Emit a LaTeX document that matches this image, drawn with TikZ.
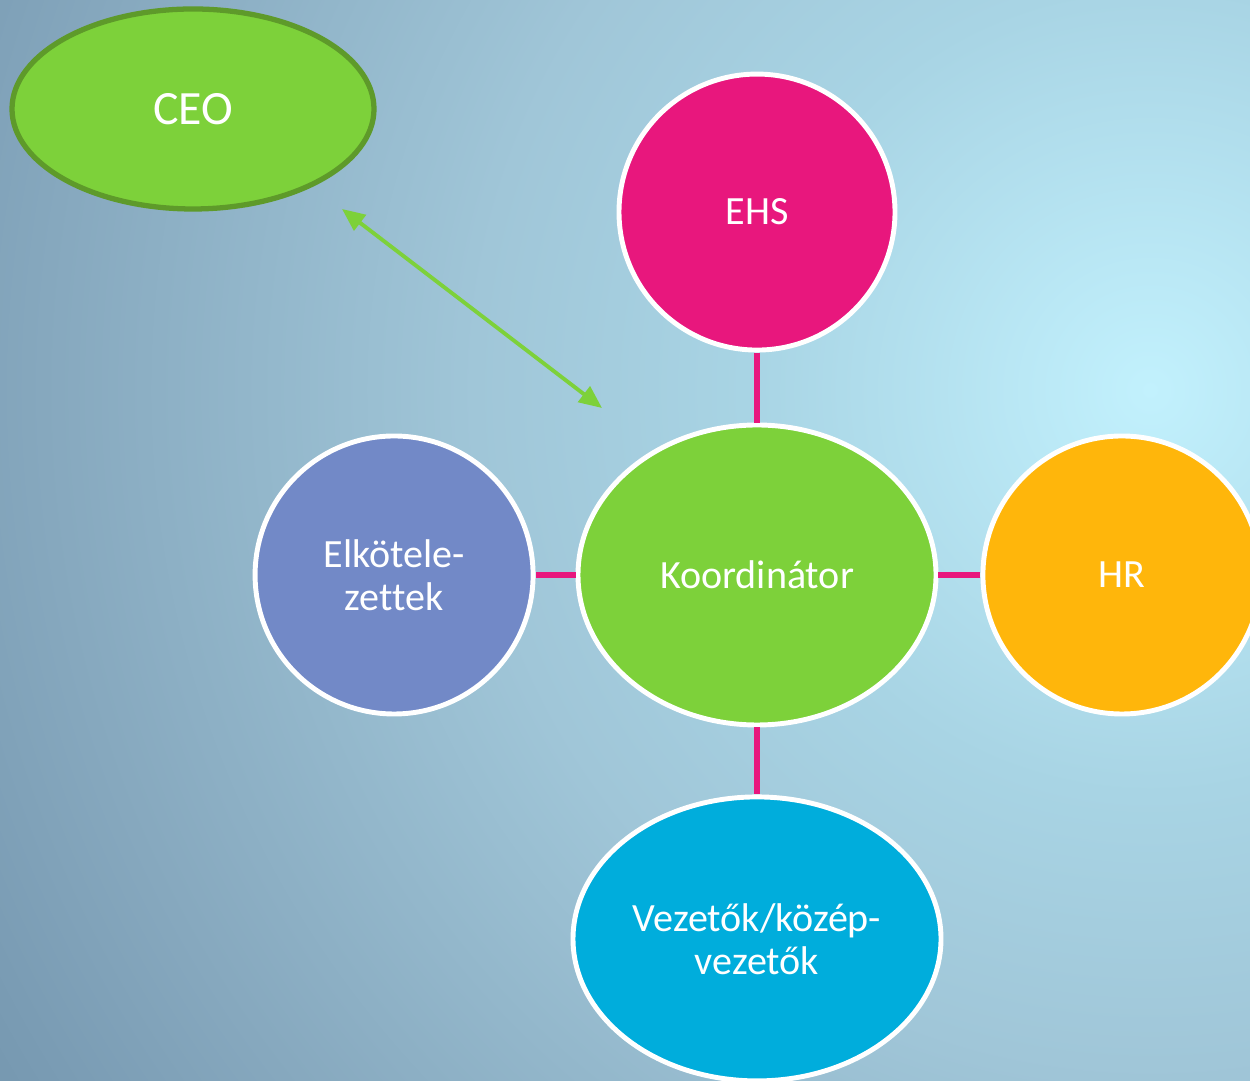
\documentclass[tikz,border=0pt]{standalone}
\usepackage{fontspec}
\setmainfont{Carlito}[Ligatures=NoCommon]
\usetikzlibrary{positioning,backgrounds,shapes.geometric,arrows.meta}
\definecolor{bg0}{HTML}{C2F1FD}
\definecolor{bg1}{HTML}{A8D4E4}
\definecolor{bg2}{HTML}{A0C6D8}
\definecolor{bg3}{HTML}{86A8BE}
\definecolor{bg4}{HTML}{7A9CB4}
\definecolor{bg5}{HTML}{7698B0}
\definecolor{cpink}{HTML}{E8177D}
\definecolor{cgreen}{HTML}{7DD13A}
\definecolor{cdkgreen}{HTML}{5E9A2A}
\definecolor{cblue}{HTML}{7289C7}
\definecolor{corange}{HTML}{FFB60B}
\definecolor{ccyan}{HTML}{00ADDC}
\pgfdeclareradialshading{bgshade}{\pgfpointorigin}{color(0bp)=(bg0); color(7.5bp)=(bg1);
    color(12.5bp)=(bg2); color(20.5bp)=(bg3); color(23.75bp)=(bg4); color(25bp)=(bg5); color(50bp)=(bg5)}

\begin{document}
\begin{tikzpicture}[
    blob/.style={draw=white, line width=1.4pt, text=white, align=center, inner sep=0pt,
        font=\fontsize{11.4}{12.3}\selectfont},
    ]
    \useasboundingbox (0,0) rectangle (12.5,-10.81);

    \node[blob, ellipse, fill=cgreen, minimum width=3.58cm, minimum height=3cm] (koord) at (7.57,-5.75) {Koordinátor};
    \node[blob, circle, fill=cpink, minimum size=2.76cm, above=0.70cm of koord] (ehs) {EHS};
    \node[blob, circle, fill=cblue, minimum size=2.78cm, left=0.40cm of koord] (elk) {Elkötele-\\zettek};
    \node[blob, circle, fill=corange, minimum size=2.78cm, right=0.42cm of koord] (hr) {HR};
    \node[blob, ellipse, fill=ccyan, minimum width=3.68cm, minimum height=2.84cm, below=0.67cm of koord] (vez) {Vezetők/közép-\\vezetők};

    \node[ellipse, draw=cdkgreen, line width=1.5pt, fill=cgreen, text=white,
        font=\fontsize{13.6}{16}\selectfont, minimum width=3.62cm, minimum height=2cm] (ceo) at (1.93,-1.09) {CEO};

    \coordinate (ceoarr) at (3.42,-2.09);
    \coordinate (koordarr) at (6.02,-4.08);

    \path[cpink, line width=1.7pt]
    (koord) edge (ehs)
    (koord) edge (elk)
    (koord) edge (hr)
    (koord) edge (vez);

    \draw[cgreen, line width=1.1pt, {Triangle[length=6.5pt,width=5.5pt]}-{Triangle[length=6.5pt,width=5.5pt]}]
    (ceoarr) -- (koordarr);

    \begin{pgfonlayer}{background}
        \begin{scope}
            \clip (0,0) rectangle (12.5,-10.81);
            \shade[shading=bgshade] (11.5,-3.9) circle (13.5cm);
        \end{scope}
    \end{pgfonlayer}
\end{tikzpicture}
\end{document}
